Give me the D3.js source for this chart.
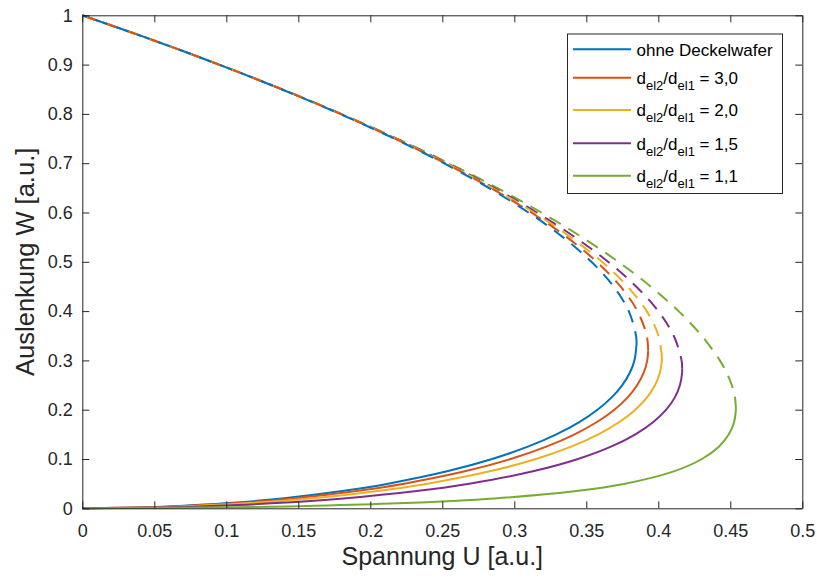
<!DOCTYPE html>
<html><head><meta charset="utf-8">
<script src="https://cdn.jsdelivr.net/npm/d3@7"></script>
<style>
body{margin:0;background:#fff}
svg{display:block}
text{font-family:"Liberation Sans",Arial,Helvetica,sans-serif}
</style>
</head><body>
<svg id="chart" width="817" height="579"></svg>
<script>
// ---- data ----
const W_GRID = [0, .002, .005, .01, .02, .035, .05, .075, .1, .125, .15, .175, .2, .225, .25, .275, .3,
                .35, .4, .45, .5, .55, .6, .65, .7, .75, .8, .85, .9, .95, 1];
const U_OHNE = [0, .04463, .07036, .09900, .13859, .18053, .21243, .25332, .28460, .30936, .32920, .34512, .35777, .36761, .37500, .38019, .38341,
                .38454, .37947, .36895, .35355, .33373, .30984, .28218, .25100, .21651, .17889, .13829, .09487, .04873, 0];
const U_30 = [0, .04732, .07456, .10483, .14652, .19042, .22355, .26562, .29742, .32225, .34189, .35740, .36950, .37872, .38540, .38987, .39233,
              .39200, .38552, .37373, .35722, .33644, .31177, .28349, .25183, .21699, .17913, .13840, .09490, .04874, 0];
const U_20 = [0, .05149, .08104, .11376, .15850, .20506, .23972, .28300, .31500, .33948, .35840, .37300, .38406, .39217, .39775, .40111, .40250,
              .40016, .39192, .37862, .36084, .33905, .31357, .28467, .25256, .21741, .17934, .13849, .09492, .04874, 0];
const U_15 = [0, .05972, .09378, .13111, .18131, .23214, .26884, .31299, .34423, .36713, .38409, .39656, .40548, .41148, .41505, .41652, .41616,
              .41073, .39994, .38457, .36515, .34207, .31562, .28600, .25337, .21786, .17957, .13858, .09495, .04874, 0];
const U_11 = [0, .10524, .16176, .21891, .28628, .34294, .37695, .41080, .43028, .44204, .44899, .45265, .45389, .45323, .45101, .44745, .44272,
              .43019, .41404, .39463, .37219, .34688, .31879, .28800, .25456, .21851, .17988, .13870, .09499, .04875, 0];
// pull-in (turning) points: solid below, dashed above
const TURN_U = [0.38490, 0.39297, 0.40254, 0.41656, 0.45389];
const TURN_W = [0.3333, 0.32, 0.305, 0.283, 0.2];
const SERIES_U = [U_OHNE, U_30, U_20, U_15, U_11];
const LEGEND_MAIN = "ohne Deckelwafer";
const LEGEND_RATIOS = ["3,0", "2,0", "1,5", "1,1"];
const COLORS = ["#0072BD", "#D95319", "#EDB120", "#7E2F8E", "#77AC30"];
const X_TICKS = [0, 0.05, 0.1, 0.15, 0.2, 0.25, 0.3, 0.35, 0.4, 0.45, 0.5];
const X_TICK_LABELS = ["0", "0.05", "0.1", "0.15", "0.2", "0.25", "0.3", "0.35", "0.4", "0.45", "0.5"];
const Y_TICKS = [0, 0.1, 0.2, 0.3, 0.4, 0.5, 0.6, 0.7, 0.8, 0.9, 1];
const Y_TICK_LABELS = ["0", "0.1", "0.2", "0.3", "0.4", "0.5", "0.6", "0.7", "0.8", "0.9", "1"];
const X_LABEL = "Spannung U [a.u.]";
const Y_LABEL = "Auslenkung W [a.u.]";

// ---- layout ----
const svg = d3.select("#chart");
const P = {l: 82.3, r: 802.3, t: 15.3, b: 508.3};
const x = d3.scaleLinear().domain([0, 0.5]).range([P.l, P.r]);
const y = d3.scaleLinear().domain([0, 1]).range([P.b, P.t]);
const AX = "#262626";
const TICK_FS = 18;

// ---- curves ----
const line = d3.line().x(d => x(d[0])).y(d => y(d[1])).curve(d3.curveCatmullRom.alpha(0.5));
const solidPts = [], dashPts = [];
SERIES_U.forEach((U, i) => {
  const s = [], d = [];
  W_GRID.forEach((w, k) => {
    if (w < TURN_W[i] - 1e-9) s.push([U[k], w]);
    else if (w > TURN_W[i] + 1e-9) d.push([U[k], w]);
  });
  s.push([TURN_U[i], TURN_W[i]]);
  d.unshift([TURN_U[i], TURN_W[i]]);
  solidPts.push(s); dashPts.push(d);
});
const gLines = svg.append("g");
// dashed upper branches (first series drawn last, on top)
for (let i = SERIES_U.length - 1; i >= 0; i--) {
  gLines.append("path").attr("d", line(dashPts[i])).attr("fill", "none")
    .attr("stroke", COLORS[i]).attr("stroke-width", 2).attr("stroke-dasharray", "13,9");
}
// solid lower branches
for (let i = 0; i < SERIES_U.length; i++) {
  gLines.append("path").attr("d", line(solidPts[i])).attr("fill", "none")
    .attr("stroke", COLORS[i]).attr("stroke-width", 2);
}

// ---- axes ----
function styleAxis(g) {
  g.selectAll("path.domain").attr("stroke", AX).attr("stroke-width", 1);
  g.selectAll(".tick line").attr("stroke", AX).attr("stroke-width", 1);
  g.selectAll(".tick text").attr("fill", AX).attr("font-size", TICK_FS)
    .attr("font-family", '"Liberation Sans",Arial,Helvetica,sans-serif');
  g.attr("font-size", TICK_FS).attr("font-family", null);
}
const xAxis = d3.axisBottom(x).tickValues(X_TICKS).tickFormat((d, i) => X_TICK_LABELS[i])
  .tickSizeInner(-7).tickSizeOuter(0).tickPadding(16.3);
svg.append("g").attr("transform", `translate(0,${P.b})`).call(xAxis).call(styleAxis);
const xTop = d3.axisTop(x).tickValues(X_TICKS).tickFormat("").tickSizeInner(-7).tickSizeOuter(0);
svg.append("g").attr("transform", `translate(0,${P.t})`).call(xTop).call(styleAxis);
const yAxis = d3.axisLeft(y).tickValues(Y_TICKS).tickFormat((d, i) => Y_TICK_LABELS[i])
  .tickSizeInner(-7).tickSizeOuter(0).tickPadding(9.6);
svg.append("g").attr("transform", `translate(${P.l},0)`).call(yAxis).call(styleAxis);
const yRight = d3.axisRight(y).tickValues(Y_TICKS).tickFormat("").tickSizeInner(-7).tickSizeOuter(0);
svg.append("g").attr("transform", `translate(${P.r},0)`).call(yRight).call(styleAxis);

// axis labels
svg.append("text").attr("x", (P.l + P.r) / 2).attr("y", 565).attr("text-anchor", "middle")
  .attr("font-size", 25).attr("fill", AX).text(X_LABEL);
svg.append("text").attr("transform", `translate(33.5,${(P.t + P.b) / 2}) rotate(-90)`)
  .attr("text-anchor", "middle").attr("font-size", 25.5).attr("fill", AX).text(Y_LABEL);

// ---- legend ----
const LG = {x0: 567.5, x1: 782.5, y0: 34, y1: 193.5, lx0: 573, lx1: 631, tx: 636.5};
const ROW_Y = [49.3, 77.7, 110, 143.3, 175.7];
const leg = svg.append("g");
leg.append("rect").attr("x", LG.x0).attr("y", LG.y0).attr("width", LG.x1 - LG.x0).attr("height", LG.y1 - LG.y0)
  .attr("fill", "#fff").attr("stroke", AX).attr("stroke-width", 1);
const LFS = 17, SFS = 13, SDY = 6;
ROW_Y.forEach((ry, i) => {
  leg.append("line").attr("x1", LG.lx0).attr("x2", LG.lx1).attr("y1", ry).attr("y2", ry)
    .attr("stroke", COLORS[i]).attr("stroke-width", 2);
  const t = leg.append("text").attr("x", LG.tx).attr("y", ry + 6.3).attr("font-size", LFS)
    .attr("fill", "#000").style("white-space", "pre");
  if (i === 0) { t.text(LEGEND_MAIN); return; }
  t.append("tspan").text("d");
  t.append("tspan").attr("font-size", SFS).attr("dy", SDY).text("el2");
  t.append("tspan").attr("dy", -SDY).text("/d");
  t.append("tspan").attr("font-size", SFS).attr("dy", SDY).text("el1");
  t.append("tspan").attr("dy", -SDY).text(" = " + LEGEND_RATIOS[i - 1]);
});
</script>
</body></html>
